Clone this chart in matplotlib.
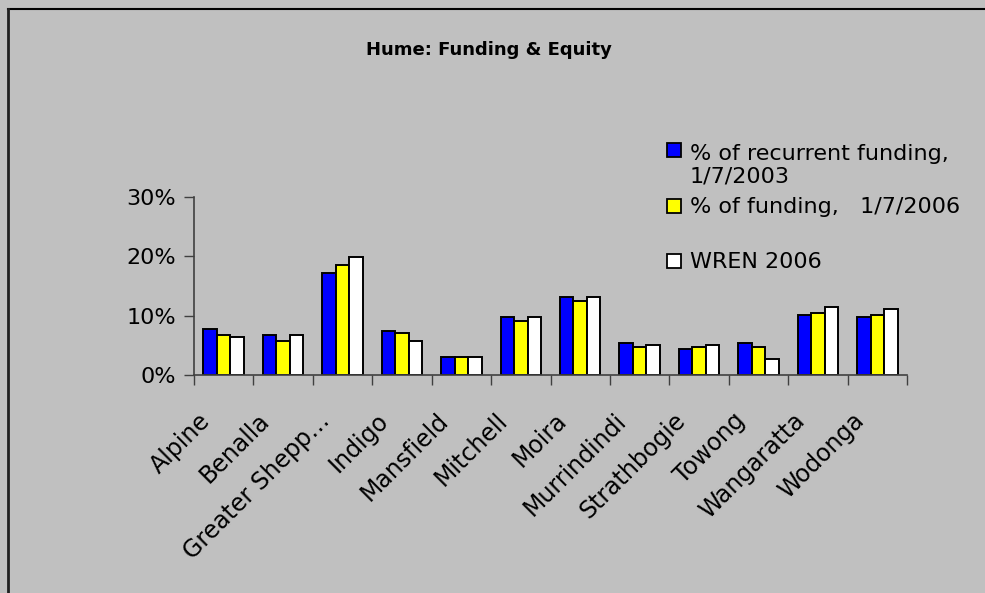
import matplotlib
matplotlib.use("Agg")
import matplotlib.pyplot as plt
import numpy as np
from matplotlib.lines import Line2D
from matplotlib.patches import Rectangle
from matplotlib.transforms import ScaledTranslation

categories = ["Alpine", "Benalla", "Greater Shepp\u2026", "Indigo", "Mansfield", "Mitchell",
              "Moira", "Murrindindi", "Strathbogie", "Towong", "Wangaratta", "Wodonga"]
funding_2003 = [7.8, 6.7, 17.2, 7.4, 3.0, 9.8, 13.2, 5.4, 4.4, 5.4, 10.1, 9.8]
funding_2006 = [6.7, 5.7, 18.5, 7.1, 3.0, 9.1, 12.5, 4.7, 4.7, 4.7, 10.5, 10.1]
wren_2006 = [6.4, 6.7, 19.9, 5.7, 3.0, 9.8, 13.2, 5.1, 5.1, 2.7, 11.5, 11.1]
series_labels = ["% of recurrent funding,\n1/7/2003", "% of funding,   1/7/2006", "WREN 2006"]
series_colors = ["#0000FF", "#FFFF00", "#FFFFFF"]
yticks = [0, 10, 20, 30]
title = "Hume: Funding & Equity"

W, H = 985, 593
bg = "#C0C0C0"
plt.rcParams['font.family'] = ['DejaVu Sans']
fig = plt.figure(figsize=(W / 100, H / 100), dpi=100, facecolor=bg)

left, right, bottom, top = 194, 907, 375, 197
ax = fig.add_axes([left / W, 1 - bottom / H, (right - left) / W, (bottom - top) / H])
ax.set_facecolor(bg)

x = np.arange(len(categories))
bw = 0.227
for i, (vals, col) in enumerate(zip([funding_2003, funding_2006, wren_2006], series_colors)):
    ax.bar(x + (i - 1) * bw, np.array(vals) / 100, width=bw, color=col,
           edgecolor="black", linewidth=1.4, zorder=3)

ax.set_xlim(-0.5, len(categories) - 0.5)
ax.set_ylim(0, 0.30)
ax.set_yticks([v / 100 for v in yticks])
ax.set_yticklabels([f"{v}%" for v in yticks], fontsize=16)
ax.tick_params(axis='y', length=7, width=1, color="#404040", pad=6)
ax.set_xticks(x)
ax.set_xticklabels(categories, rotation=45, ha='right', va='center',
                   rotation_mode='anchor', fontsize=17)
ax.tick_params(axis='x', which='major', length=0, pad=0)
off = ScaledTranslation(-17 / 100, -42 / 100, fig.dpi_scale_trans)
for lab in ax.get_xticklabels():
    lab.set_transform(lab.get_transform() + off)
ax.set_xticks(np.arange(-0.5, len(categories), 1.0), minor=True)
ax.tick_params(axis='x', which='minor', length=7, width=1, color="#404040")
for s in ["top", "right"]:
    ax.spines[s].set_visible(False)
for s in ["left", "bottom"]:
    ax.spines[s].set_color("#404040")
    ax.spines[s].set_linewidth(1.2)
ax.spines["bottom"].set_zorder(4)

fig.text(489 / W, 1 - 50 / H, title, ha='center', va='center', fontsize=13, fontweight='bold')

# legend (manual)
leg_entries = [(150, 183), (206, 213), (261, 268)]
for (yc, ybase), lab, col in zip(leg_entries, series_labels, series_colors):
    fig.patches.append(Rectangle((667 / W, 1 - (yc + 7) / H), 14 / W, 14 / H,
                                 transform=fig.transFigure, facecolor=col,
                                 edgecolor="black", linewidth=1.3))
    fig.text(690 / W, 1 - ybase / H, lab, ha='left', va='baseline', fontsize=16,
             linespacing=1.2)

# outer frame
fig.add_artist(Line2D([8 / W, 1.0], [1 - 9 / H, 1 - 9 / H], transform=fig.transFigure,
                      color="black", linewidth=1.5))
fig.add_artist(Line2D([8 / W, 8 / W], [0, 1 - 9 / H], transform=fig.transFigure,
                      color="#202020", linewidth=2))

fig.savefig("out.png", dpi=100, facecolor=bg)
